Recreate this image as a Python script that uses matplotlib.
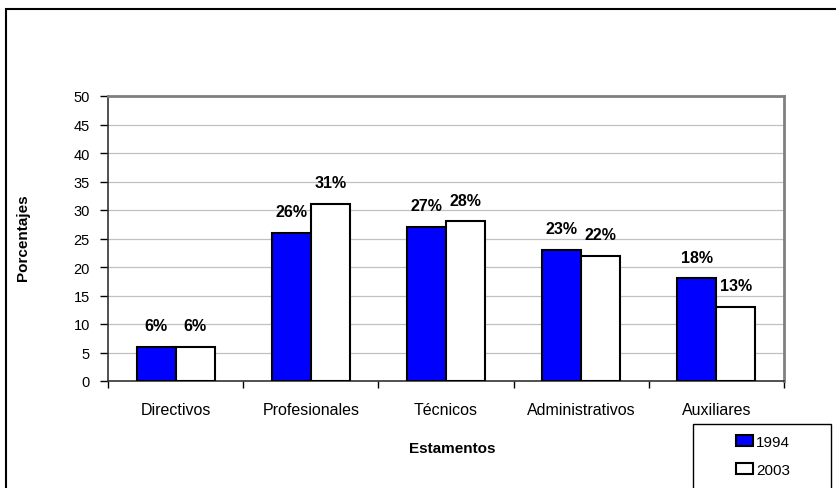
import numpy as np
import matplotlib
matplotlib.use("Agg")
import matplotlib.pyplot as plt
from matplotlib.patches import Patch, Rectangle

# Distribución del personal por estamento (porcentajes)
estamentos = ["Directivos", "Profesionales", "Técnicos", "Administrativos", "Auxiliares"]
anios = ["1994", "2003"]
pct_1994 = [6, 26, 27, 23, 18]
pct_2003 = [6, 31, 28, 22, 13]

plt.rcParams['font.family'] = ['Liberation Sans', 'DejaVu Sans']

W, H = 836, 489
fig = plt.figure(figsize=(W / 100, H / 100), dpi=100)
ax = fig.add_axes([108 / W, 1 - 382 / H, (784 - 108) / W, (382 - 97) / H])

x = np.arange(len(estamentos))
ancho = 0.288
b1 = ax.bar(x - ancho / 2, pct_1994, ancho, color="#0000ff", edgecolor="black",
            linewidth=1.5, zorder=3)
b2 = ax.bar(x + ancho / 2, pct_2003, ancho, color="white", edgecolor="black",
            linewidth=1.5, zorder=3)

# etiquetas de valor sobre cada barra (detrás de las barras)
for barras, valores in ((b1, pct_1994), (b2, pct_2003)):
    for r, v in zip(barras, valores):
        ax.annotate(f"{v}%", (r.get_x() + r.get_width() / 2, v),
                    xytext=(0, 10), textcoords="offset points",
                    ha="center", va="bottom", fontsize=11.5,
                    fontweight="bold", zorder=2)

ax.set_xlim(-0.5, len(estamentos) - 0.5)
ax.set_ylim(0, 50)
ax.set_yticks(np.arange(0, 51, 5))
ax.tick_params(axis="y", direction="out", length=6, width=1, pad=7,
               labelsize=10.5)
ax.set_xticks(x)
ax.set_xticklabels(estamentos)
ax.set_xticks(np.arange(-0.5, len(estamentos), 1), minor=True)
ax.tick_params(axis="x", which="major", length=0, pad=15, labelsize=11.5)
ax.tick_params(axis="x", which="minor", direction="out", length=5, width=1)

ax.grid(axis="y", color="#c0c0c0", linewidth=0.9, zorder=0)
ax.set_axisbelow(True)
for lado in ("left", "bottom"):
    ax.spines[lado].set_color("#333333")
    ax.spines[lado].set_linewidth(1.2)
for lado in ("top", "right"):
    ax.spines[lado].set_color("#808080")
    ax.spines[lado].set_linewidth(2)

ax.set_ylabel("Porcentajes", fontsize=11, fontweight="bold")
ax.yaxis.set_label_coords((30 - 108) / (784 - 108), 0.505)
ax.set_xlabel("Estamentos", fontsize=11, fontweight="bold")
ax.xaxis.set_label_coords((452 - 108) / (784 - 108), (382 - 449) / (382 - 97))
ax.xaxis.label.set_va("center")

# leyenda en un recuadro en la esquina inferior derecha
handles = [Patch(facecolor="#0000ff", edgecolor="black", linewidth=1.5),
           Patch(facecolor="white", edgecolor="black", linewidth=1.5)]
fig.legend(handles, anios, loc="center", bbox_to_anchor=(763 / W, 1 - 457 / H),
           frameon=False, fontsize=11, handlelength=1.1, handleheight=0.75,
           handletextpad=0.2, labelspacing=0.9, borderpad=0)
fig.patches.append(Rectangle((693 / W, -0.1), (831 - 693) / W, (489 - 425) / H + 0.1,
                             transform=fig.transFigure, fill=False,
                             edgecolor="black", linewidth=1))

# marco exterior del gráfico
fig.patches.append(Rectangle((6 / W, -0.1), 1.1, (H - 10) / H + 0.1,
                             transform=fig.transFigure, fill=False,
                             edgecolor="black", linewidth=1.5))

fig.savefig("out.png", dpi=100)
